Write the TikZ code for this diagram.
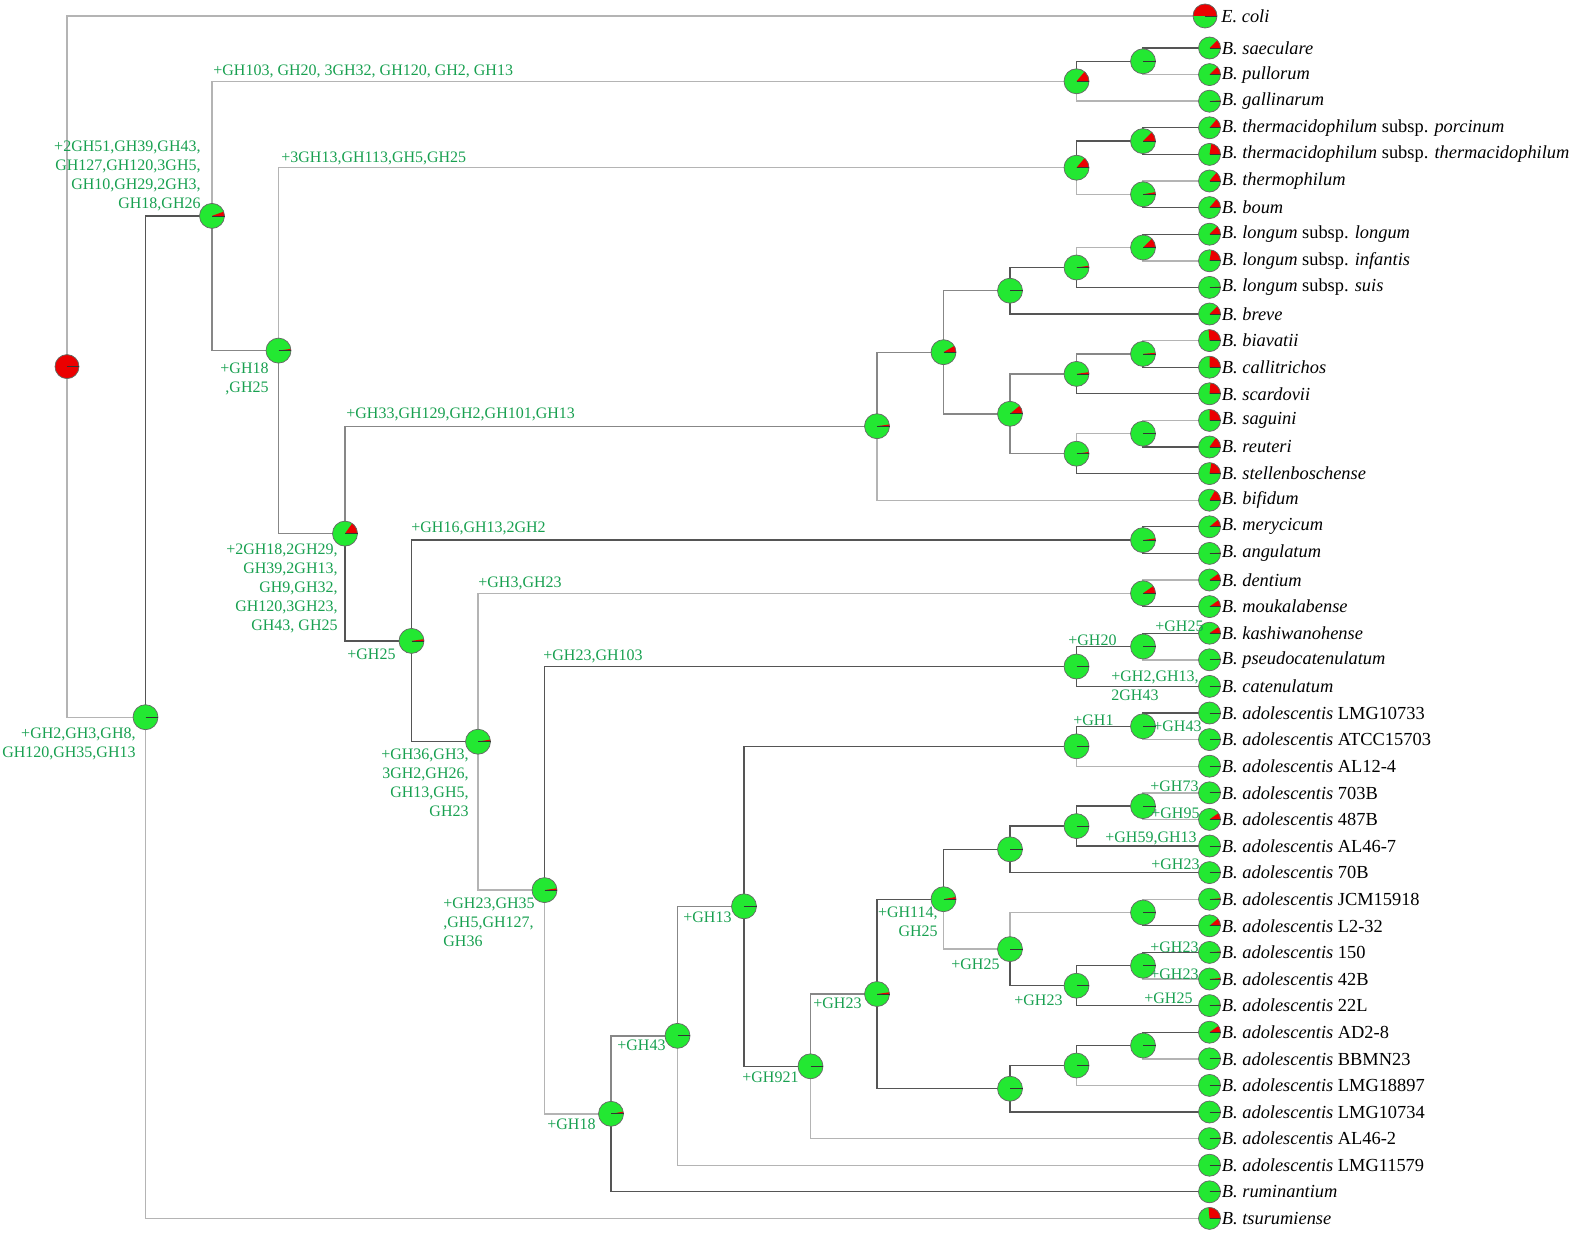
\documentclass[tikz,border=0pt]{standalone}
\usepackage{fontspec}
\setmainfont{Liberation Serif}
\usetikzlibrary{backgrounds}
\definecolor{gtxt}{RGB}{24,160,80}
\definecolor{pgreen}{RGB}{35,232,50}
\definecolor{pred}{RGB}{235,0,0}
\definecolor{ltc}{RGB}{180,180,180}
\definecolor{mdc}{RGB}{135,135,135}
\definecolor{dkc}{RGB}{85,85,85}
\tikzset{
  piebody/.style={circle, inner sep=0pt, outer sep=0pt, fill=pgreen},
  pieedge/.style={draw=black!60, line width=0.35pt},
  ticks/.style={draw=black!80, line width=0.4pt},
  lt/.style={draw=ltc, line width=0.7pt},
  md/.style={draw=mdc, line width=0.7pt},
  dk/.style={draw=dkc, line width=0.65pt},
  leaflab/.style={anchor=west, inner sep=0pt, font=\fontsize{9.2}{11}\selectfont},
  glab/.style={text=gtxt, inner sep=0pt, font=\fontsize{8}{9.5}\selectfont}
}
\newcommand{\pienode}[5]{%
  \node[piebody, minimum size=#4pt] (#1) at (#2,#3) {};
  \ifdim #5pt>0pt
    \fill[pred] (#1.center) -- ++(0:#4) arc[start angle=0, end angle=-#5, radius=#4] -- cycle;
  \fi
  \draw[pieedge] (#1.center) circle[radius=#4];
  \draw[ticks] (#1.center) -- +(0:#4);
}
\newcommand{\leafnode}[4]{%
  \pienode{#1}{1209.5}{#2}{11}{#3}
  \node[leaflab] (t#1) at ([xshift=0.5pt]#1.east) {#4};
}
\begin{document}
\begin{tikzpicture}[x=0.5pt,y=-0.5pt]
\useasboundingbox (0,0) rectangle (1575,1236);
% ---------- internal nodes ----------
\pienode{root}{67}{366.6}{12}{360}
\pienode{nA}{145.5}{717.2}{12.5}{0}
\pienode{nB}{212}{215.9}{12.5}{20}
\pienode{nD}{278.5}{350.6}{12.5}{8}
\pienode{nE}{345}{533.6}{12.5}{55}
\pienode{nF}{411.5}{640.9}{12.5}{8}
\pienode{nG}{478}{741.7}{12.5}{10}
\pienode{nH}{544.5}{890.1}{12.5}{8}
\pienode{nI}{611}{1113.8}{12.5}{10}
\pienode{nJ}{677.5}{1035.8}{12.5}{0}
\pienode{nK}{744}{906.3}{12.5}{0}
\pienode{nL}{810.5}{1066.3}{12.5}{0}
\pienode{nM}{877}{994.0}{12.5}{8}
\pienode{nN}{943.5}{899.2}{12.5}{10}
\pienode{n1}{1076.5}{81.3}{12.5}{50}
\pienode{n1a}{1143}{61.3}{12.5}{0}
\pienode{n2}{1076.5}{167.7}{12.5}{50}
\pienode{n2a}{1143}{141.1}{12.5}{45}
\pienode{n2b}{1143}{194.3}{12.5}{10}
\pienode{n3a}{1143}{247.5}{12.5}{45}
\pienode{n3b}{1076.5}{267.5}{12.5}{8}
\pienode{n3c}{1010}{290.7}{12.5}{0}
\pienode{n4a}{1143}{353.9}{12.5}{5}
\pienode{n4b}{1076.5}{373.9}{12.5}{8}
\pienode{n4c}{1143}{433.7}{12.5}{0}
\pienode{n4d}{1076.5}{453.7}{12.5}{8}
\pienode{n4e}{1010}{413.8}{12.5}{40}
\pienode{n5}{943.5}{352.2}{12.5}{30}
\pienode{n6}{877}{426.2}{12.5}{8}
\pienode{n7}{1143}{540.1}{12.5}{8}
\pienode{n8}{1143}{593.3}{12.5}{35}
\pienode{n9}{1076.5}{666.5}{12.5}{0}
\pienode{n9a}{1143}{646.5}{12.5}{0}
\pienode{n10}{1076.5}{746.3}{12.5}{0}
\pienode{n10a}{1143}{726.3}{12.5}{0}
\pienode{n11a}{1143}{806.1}{12.5}{0}
\pienode{n11b}{1076.5}{826.1}{12.5}{0}
\pienode{n11c}{1010}{849.3}{12.5}{0}
\pienode{n12a}{1143}{912.5}{12.5}{0}
\pienode{n12b}{1143}{965.7}{12.5}{0}
\pienode{n12c}{1076.5}{985.7}{12.5}{0}
\pienode{n12d}{1010}{949.1}{12.5}{0}
\pienode{n14a}{1143}{1045.5}{12.5}{0}
\pienode{n14b}{1076.5}{1065.5}{12.5}{0}
\pienode{n14c}{1010}{1088.7}{12.5}{0}
% ---------- leaves ----------
\pienode{ecoli}{1205}{16}{12}{180}
\node[leaflab] (tecoli) at ([xshift=2pt]ecoli.east) {\textit{E. coli}};
\leafnode{l1}{48.0}{45}{\textit{B. saeculare}}
\leafnode{l2}{74.6}{45}{\textit{B. pullorum}}
\leafnode{l3}{101.2}{4}{\textit{B. gallinarum}}
\leafnode{l4}{127.8}{50}{\textit{B. thermacidophilum} subsp. \textit{porcinum}}
\leafnode{l5}{154.4}{80}{\textit{B. thermacidophilum} subsp. \textit{thermacidophilum}}
\leafnode{l6}{181.0}{50}{\textit{B. thermophilum}}
\leafnode{l7}{207.6}{50}{\textit{B. boum}}
\leafnode{l8}{234.2}{45}{\textit{B. longum} subsp. \textit{longum}}
\leafnode{l9}{260.8}{80}{\textit{B. longum} subsp. \textit{infantis}}
\leafnode{l10}{287.4}{4}{\textit{B. longum} subsp. \textit{suis}}
\leafnode{l11}{314.0}{45}{\textit{B. breve}}
\leafnode{l12}{340.6}{95}{\textit{B. biavatii}}
\leafnode{l13}{367.2}{90}{\textit{B. callitrichos}}
\leafnode{l14}{393.8}{85}{\textit{B. scardovii}}
\leafnode{l15}{420.4}{90}{\textit{B. saguini}}
\leafnode{l16}{447.0}{55}{\textit{B. reuteri}}
\leafnode{l17}{473.6}{80}{\textit{B. stellenboschense}}
\leafnode{l18}{500.2}{60}{\textit{B. bifidum}}
\leafnode{l19}{526.8}{40}{\textit{B. merycicum}}
\leafnode{l20}{553.4}{4}{\textit{B. angulatum}}
\leafnode{l21}{580.0}{35}{\textit{B. dentium}}
\leafnode{l22}{606.6}{35}{\textit{B. moukalabense}}
\leafnode{l23}{633.2}{35}{\textit{B. kashiwanohense}}
\leafnode{l24}{659.8}{6}{\textit{B. pseudocatenulatum}}
\leafnode{l25}{686.4}{0}{\textit{B. catenulatum}}
\leafnode{l26}{713.0}{0}{\textit{B. adolescentis} LMG10733}
\leafnode{l27}{739.6}{0}{\textit{B. adolescentis} ATCC15703}
\leafnode{l28}{766.2}{0}{\textit{B. adolescentis} AL12-4}
\leafnode{l29}{792.8}{5}{\textit{B. adolescentis} 703B}
\leafnode{l30}{819.4}{35}{\textit{B. adolescentis} 487B}
\leafnode{l31}{846.0}{0}{\textit{B. adolescentis} AL46-7}
\leafnode{l32}{872.6}{0}{\textit{B. adolescentis} 70B}
\leafnode{l33}{899.2}{5}{\textit{B. adolescentis} JCM15918}
\leafnode{l34}{925.8}{40}{\textit{B. adolescentis} L2-32}
\leafnode{l35}{952.4}{5}{\textit{B. adolescentis} 150}
\leafnode{l36}{979.0}{5}{\textit{B. adolescentis} 42B}
\leafnode{l37}{1005.6}{5}{\textit{B. adolescentis} 22L}
\leafnode{l38}{1032.2}{35}{\textit{B. adolescentis} AD2-8}
\leafnode{l39}{1058.8}{5}{\textit{B. adolescentis} BBMN23}
\leafnode{l40}{1085.4}{0}{\textit{B. adolescentis} LMG18897}
\leafnode{l41}{1112.0}{0}{\textit{B. adolescentis} LMG10734}
\leafnode{l42}{1138.6}{5}{\textit{B. adolescentis} AL46-2}
\leafnode{l43}{1165.2}{0}{\textit{B. adolescentis} LMG11579}
\leafnode{l44}{1191.8}{5}{\textit{B. ruminantium}}
\leafnode{l45}{1218.4}{95}{\textit{B. tsurumiense}}
% ---------- connectors ----------
\begin{scope}[on background layer]
\draw[lt] (root.center) |- (ecoli.center);
\draw[lt] (root.center) |- (nA.center);
\draw[dk] (nA.center) |- (nB.center);
\draw[lt] (nA.center) |- (l45.center);
\draw[lt] (nB.center) |- (n1.center);
\draw[md] (nB.center) |- (nD.center);
\draw[dk] (n1.center) |- (n1a.center);
\draw[lt] (n1.center) |- (l3.center);
\draw[dk] (n1a.center) |- (l1.center);
\draw[lt] (n1a.center) |- (l2.center);
\draw[lt] (nD.center) |- (n2.center);
\draw[md] (nD.center) |- (nE.center);
\draw[dk] (n2.center) |- (n2a.center);
\draw[lt] (n2.center) |- (n2b.center);
\draw[dk] (n2a.center) |- (l4.center);
\draw[dk] (n2a.center) |- (l5.center);
\draw[lt] (n2b.center) |- (l6.center);
\draw[dk] (n2b.center) |- (l7.center);
\draw[md] (nE.center) |- (n6.center);
\draw[dk] (nE.center) |- (nF.center);
\draw[md] (n6.center) |- (n5.center);
\draw[lt] (n6.center) |- (l18.center);
\draw[md] (n5.center) |- (n3c.center);
\draw[md] (n5.center) |- (n4e.center);
\draw[dk] (n3c.center) |- (n3b.center);
\draw[dk] (n3c.center) |- (l11.center);
\draw[lt] (n3b.center) |- (n3a.center);
\draw[dk] (n3b.center) |- (l10.center);
\draw[dk] (n3a.center) |- (l8.center);
\draw[lt] (n3a.center) |- (l9.center);
\draw[md] (n4e.center) |- (n4b.center);
\draw[md] (n4e.center) |- (n4d.center);
\draw[md] (n4b.center) |- (n4a.center);
\draw[dk] (n4b.center) |- (l14.center);
\draw[lt] (n4a.center) |- (l12.center);
\draw[dk] (n4a.center) |- (l13.center);
\draw[lt] (n4d.center) |- (n4c.center);
\draw[dk] (n4d.center) |- (l17.center);
\draw[lt] (n4c.center) |- (l15.center);
\draw[dk] (n4c.center) |- (l16.center);
\draw[dk] (nF.center) |- (n7.center);
\draw[dk] (nF.center) |- (nG.center);
\draw[dk] (n7.center) |- (l19.center);
\draw[dk] (n7.center) |- (l20.center);
\draw[lt] (nG.center) |- (n8.center);
\draw[lt] (nG.center) |- (nH.center);
\draw[lt] (n8.center) |- (l21.center);
\draw[dk] (n8.center) |- (l22.center);
\draw[dk] (nH.center) |- (n9.center);
\draw[lt] (nH.center) |- (nI.center);
\draw[dk] (n9.center) |- (n9a.center);
\draw[dk] (n9.center) |- (l25.center);
\draw[dk] (n9a.center) |- (l23.center);
\draw[lt] (n9a.center) |- (l24.center);
\draw[md] (nI.center) |- (nJ.center);
\draw[dk] (nI.center) |- (l44.center);
\draw[md] (nJ.center) |- (nK.center);
\draw[lt] (nJ.center) |- (l43.center);
\draw[dk] (nK.center) |- (n10.center);
\draw[dk] (nK.center) |- (nL.center);
\draw[dk] (n10.center) |- (n10a.center);
\draw[lt] (n10.center) |- (l28.center);
\draw[dk] (n10a.center) |- (l26.center);
\draw[lt] (n10a.center) |- (l27.center);
\draw[md] (nL.center) |- (nM.center);
\draw[lt] (nL.center) |- (l42.center);
\draw[dk] (nM.center) |- (nN.center);
\draw[dk] (nM.center) |- (n14c.center);
\draw[dk] (nN.center) |- (n11c.center);
\draw[lt] (nN.center) |- (n12d.center);
\draw[dk] (n11c.center) |- (n11b.center);
\draw[dk] (n11c.center) |- (l32.center);
\draw[dk] (n11b.center) |- (n11a.center);
\draw[dk] (n11b.center) |- (l31.center);
\draw[lt] (n11a.center) |- (l29.center);
\draw[lt] (n11a.center) |- (l30.center);
\draw[lt] (n12d.center) |- (n12a.center);
\draw[dk] (n12d.center) |- (n12c.center);
\draw[lt] (n12a.center) |- (l33.center);
\draw[dk] (n12a.center) |- (l34.center);
\draw[dk] (n12c.center) |- (n12b.center);
\draw[dk] (n12c.center) |- (l37.center);
\draw[dk] (n12b.center) |- (l35.center);
\draw[lt] (n12b.center) |- (l36.center);
\draw[dk] (n14c.center) |- (n14b.center);
\draw[dk] (n14c.center) |- (l41.center);
\draw[dk] (n14b.center) |- (n14a.center);
\draw[lt] (n14b.center) |- (l40.center);
\draw[dk] (n14a.center) |- (l38.center);
\draw[lt] (n14a.center) |- (l39.center);
\end{scope}
% ---------- gain labels ----------
\node[glab, anchor=north east, align=right] (gA) at (136,727.5) {+GH2,GH3,GH8,\\GH120,GH35,GH13};
\node[glab, anchor=north east, align=right] (gB) at (201,140.6) {+2GH51,GH39,GH43,\\GH127,GH120,3GH5,\\GH10,GH29,2GH3,\\GH18,GH26};
\node[glab, anchor=west] (g1) at (213,71) {+GH103, GH20, 3GH32, GH120, GH2, GH13};
\node[glab, anchor=west] (g2) at (281,158) {+3GH13,GH113,GH5,GH25};
\node[glab, anchor=north east, align=right] (gD) at (269,362.5) {+GH18\\,GH25};
\node[glab, anchor=west] (g6) at (346,414) {+GH33,GH129,GH2,GH101,GH13};
\node[glab, anchor=north east, align=right] (gE) at (338,543.5) {+2GH18,2GH29,\\GH39,2GH13,\\GH9,GH32,\\GH120,3GH23,\\GH43, GH25};
\node[glab, anchor=west] (gF) at (347,654) {+GH25};
\node[glab, anchor=west] (g7) at (411,528) {+GH16,GH13,2GH2};
\node[glab, anchor=west] (g8) at (478,583) {+GH3,GH23};
\node[glab, anchor=north east, align=right] (gG) at (469,748.5) {+GH36,GH3,\\3GH2,GH26,\\GH13,GH5,\\GH23};
\node[glab, anchor=west] (g9) at (543,656) {+GH23,GH103};
\node[glab, anchor=north west, align=left] (gH) at (443,897.5) {+GH23,GH35\\,GH5,GH127,\\GH36};
\node[glab, anchor=west] (gI) at (547,1124) {+GH18};
\node[glab, anchor=west] (gJ) at (617,1045) {+GH43};
\node[glab, anchor=west] (gK) at (683,917) {+GH13};
\node[glab, anchor=west] (gL) at (742,1077) {+GH921};
\node[glab, anchor=west] (gM) at (813,1003) {+GH23};
\node[glab, anchor=north east, align=right] (gN) at (938,906.5) {+GH114,\\GH25};
\node[glab, anchor=west] (g12d) at (951,964) {+GH25};
\node[glab, anchor=west] (g12c) at (1014,1000) {+GH23};
\node[glab, anchor=west] (g9a) at (1068,640) {+GH20};
\node[glab, anchor=west] (g23) at (1155,626) {+GH25};
\node[glab, anchor=north west, align=left] (g25) at (1111,670.5) {+GH2,GH13,\\2GH43};
\node[glab, anchor=west] (g10a) at (1073,720) {+GH1};
\node[glab, anchor=west] (g27) at (1153,726) {+GH43};
\node[glab, anchor=west] (g29) at (1150,786) {+GH73};
\node[glab, anchor=west] (g30) at (1151,813) {+GH95};
\node[glab, anchor=west] (g31) at (1105,838) {+GH59,GH13};
\node[glab, anchor=west] (g32) at (1151,864) {+GH23};
\node[glab, anchor=west] (g35) at (1150,947) {+GH23};
\node[glab, anchor=west] (g36) at (1150,974) {+GH23};
\node[glab, anchor=west] (g37) at (1144,998) {+GH25};
\end{tikzpicture}
\end{document}
